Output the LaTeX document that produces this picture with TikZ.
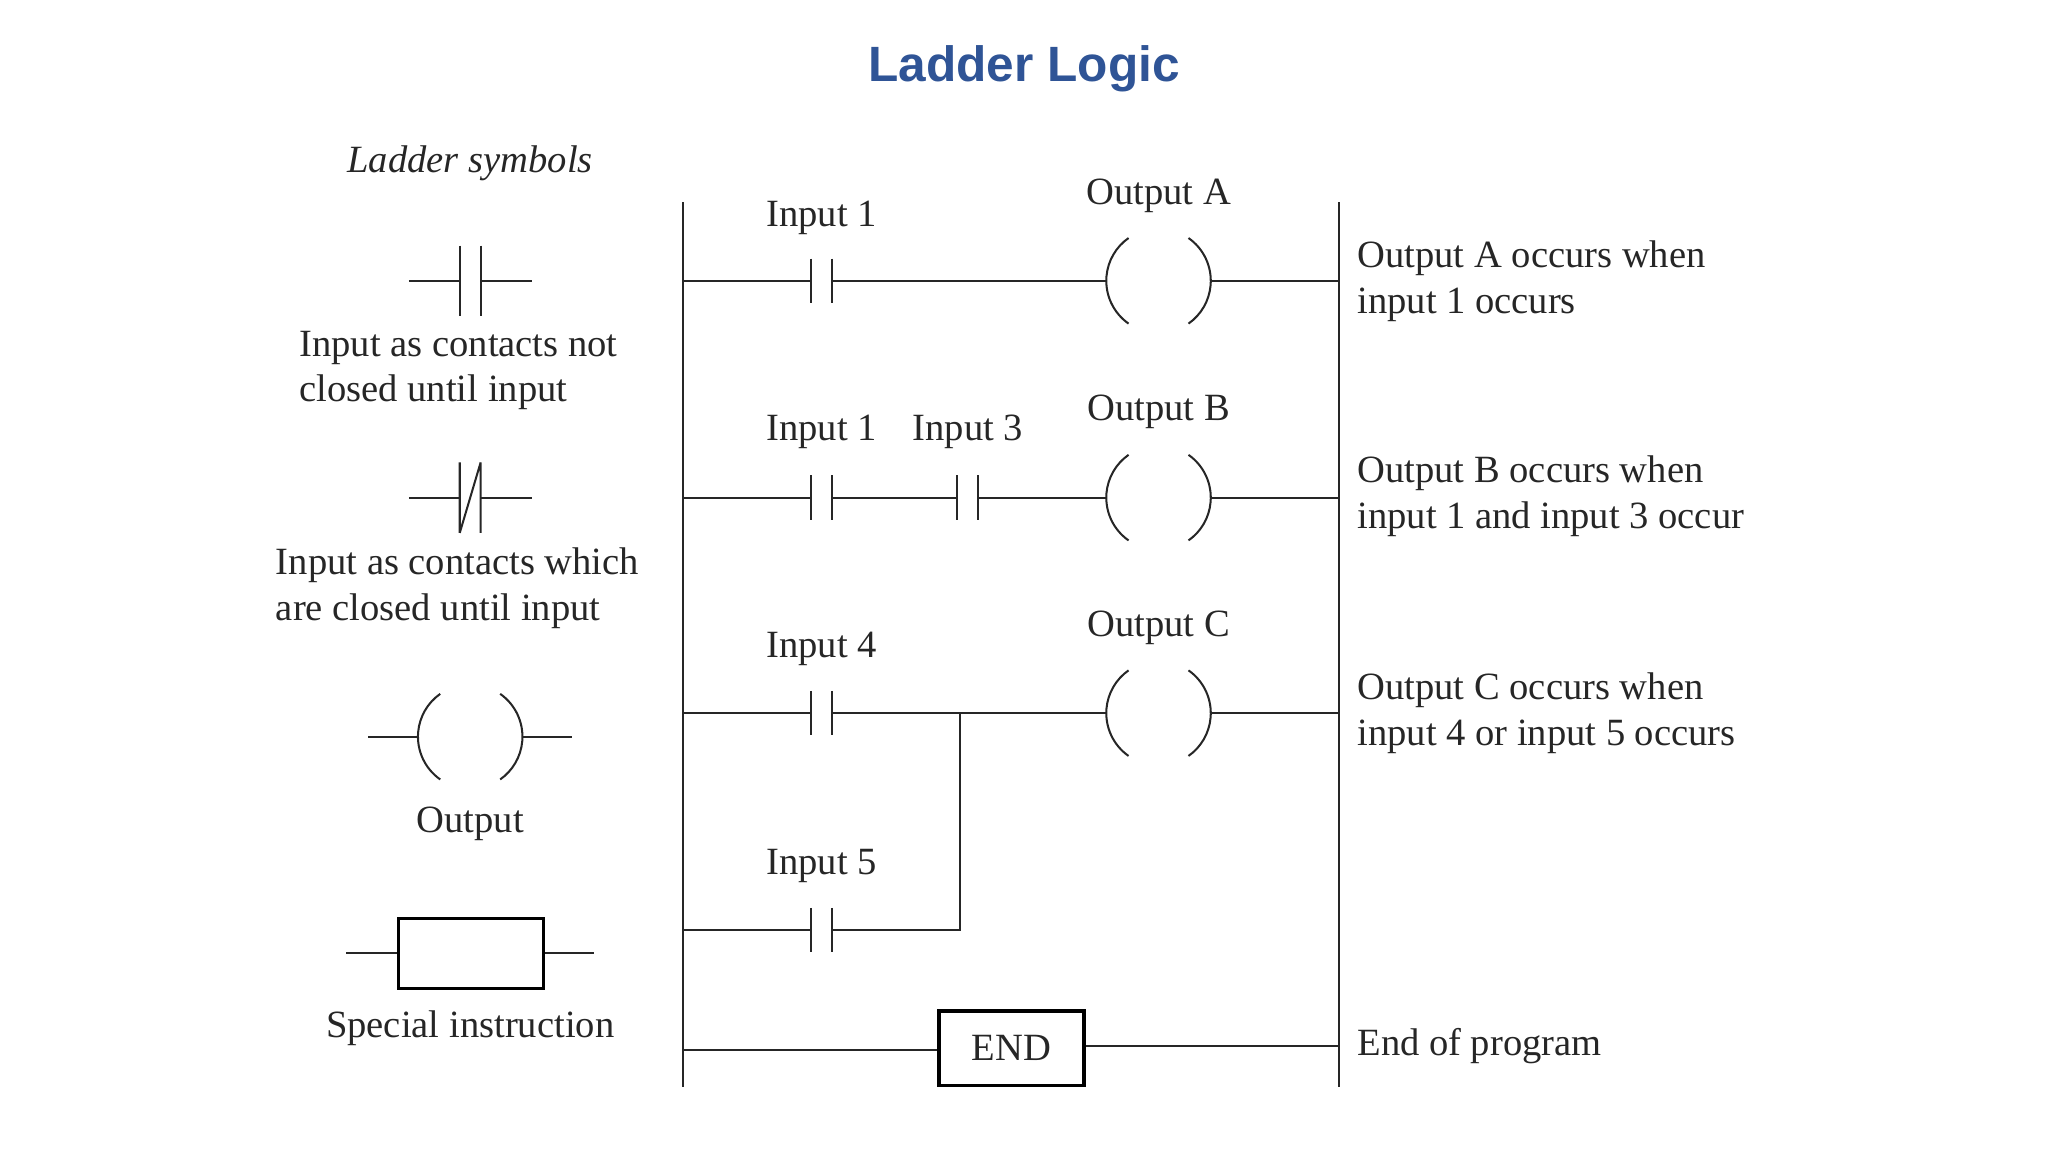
\documentclass[tikz,border=0pt]{standalone}
\usepackage{fontspec}
\setmainfont{Liberation Serif}
\newfontfamily\titlefont{Liberation Sans}
\definecolor{titleblue}{RGB}{47,84,150}
\begin{document}
\begin{tikzpicture}[x=0.025cm,y=-0.025cm,
  wire/.style={line width=1.1pt,black!85},
  lbl/.style={font=\fontsize{21}{25}\selectfont,text=black!85,inner sep=0pt},
  rtxt/.style={lbl,anchor=west,align=left},
  no/.pic={\draw[wire] (-8,-17)--(-8,17) (8,-17)--(8,17);},
  nosym/.pic={\draw[wire] (-8,-27)--(-8,27) (8,-27)--(8,27);},
  nc/.pic={\draw[wire] (-8,-27)--(-8,27) (8,-27)--(8,27) (-8,27)--(8,-27);},
  coil/.pic={\draw[wire] (125:40) arc (125:235:40); \draw[wire] (-55:40) arc (-55:55:40);}]
\useasboundingbox (0,0) rectangle (1568,882);
\node[font=\titlefont\bfseries\fontsize{27}{30}\selectfont,text=titleblue] (title) at (784,53) {Ladder Logic};
% legend
\node[lbl,font=\itshape\fontsize{21}{25}\selectfont] (ls) at (360,125) {Ladder symbols};
\draw[wire] (313,215)--(352,215) (368,215)--(407,215);
\pic at (360,215) {nosym};
\node[lbl,anchor=north west,align=left] (t1) at (229,253) {Input as contacts not\\closed until input};
\draw[wire] (313,381)--(352,381) (368,381)--(407,381);
\pic at (360,381) {nc};
\node[lbl,anchor=north west,align=left] (t2) at (211,419) {Input as contacts which\\are closed until input};
\pic at (360,564) {coil};
\draw[wire] (282,564)--(320,564) (400,564)--(438,564);
\node[lbl] (t3) at (360,631) {Output};
\node[draw,line width=1.8pt,minimum width=111*0.025cm,minimum height=54*0.025cm] (spec) at (360.5,730) {};
\draw[wire] (265,730)--(spec.west) (spec.east)--(455,730);
\node[lbl] (t4) at (360,787) {Special instruction};
% rails
\coordinate (L0) at (523,155); \coordinate (L1) at (523,832);
\coordinate (R0) at (1025,155); \coordinate (R1) at (1025,832);
\draw[wire] (L0)--(L1) (R0)--(R1);
% rung 1
\pic at (629,215) {no}; \pic at (887,215) {coil};
\draw[wire] (523,215)--(621,215) (637,215)--(847,215) (927,215)--(1025,215);
\node[lbl] at (629,167) {Input 1};
\node[lbl] at (887,150) {Output A};
\node[rtxt] at (1039,215) {Output A occurs when\\input 1 occurs};
% rung 2
\pic at (629,381) {no}; \pic at (741,381) {no}; \pic at (887,381) {coil};
\draw[wire] (523,381)--(621,381) (637,381)--(733,381) (749,381)--(847,381) (927,381)--(1025,381);
\node[lbl] at (629,331) {Input 1};
\node[lbl] at (741,331) {Input 3};
\node[lbl] at (887,315) {Output B};
\node[rtxt] at (1039,380) {Output B occurs when\\input 1 and input 3 occur};
% rung 3
\pic at (629,546) {no}; \pic at (887,546) {coil}; \pic at (629,712) {no};
\draw[wire] (523,546)--(621,546) (637,546)--(847,546) (927,546)--(1025,546);
\draw[wire] (523,712)--(621,712) (637,712)--(735,712)--(735,546);
\node[lbl] at (629,497) {Input 4};
\node[lbl] at (887,481) {Output C};
\node[lbl] at (629,663) {Input 5};
\node[rtxt] at (1039,546) {Output C occurs when\\input 4 or input 5 occurs};
% END
\node[draw,line width=1.8pt,minimum width=111*0.025cm,minimum height=57*0.025cm,lbl] (end) at (774.5,802.5) {END};
\draw[wire] (523,804)--(end.west|-0,804) (end.east|-0,801)--(1025,801);
\node[rtxt] at (1039,801) {End of program};
\end{tikzpicture}
\end{document}
